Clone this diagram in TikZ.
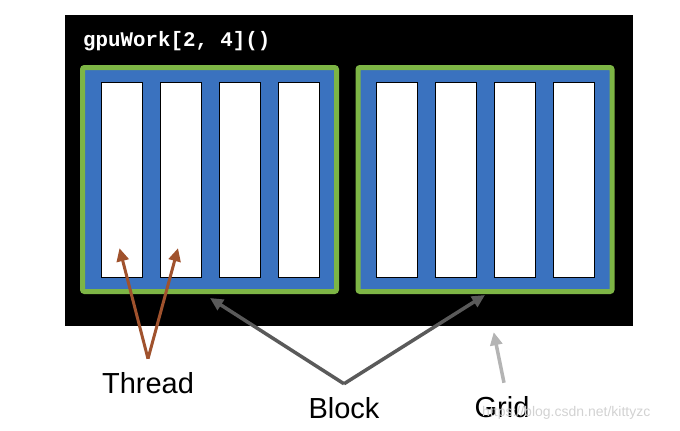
\documentclass[tikz,border=0pt]{standalone}
\usepackage{fontspec}
\setmainfont{Liberation Sans}
\setmonofont{Liberation Mono}
\usetikzlibrary{arrows.meta,calc,scopes}

\definecolor{blockblue}{HTML}{3A72BF}
\definecolor{blockgreen}{HTML}{7DB545}
\definecolor{threadbrown}{HTML}{A0522D}
\definecolor{darkarrow}{HTML}{5A5A5A}
\definecolor{lightarrow}{HTML}{B4B4B4}

\def\tstep{59}
\def\boff{275.5}

\begin{document}
\begin{tikzpicture}[x=1pt,y=-1pt,
    kernel/.style={rectangle,fill=black,minimum width=567.5pt,minimum height=311pt,inner sep=0pt},
    B/.style={rectangle,draw=blockgreen,fill=blockblue,line width=5pt,rounded corners=2pt,
        minimum width=254pt,minimum height=224pt},
    T/.style={rectangle,draw=black,fill=white,thin,minimum width=41pt,minimum height=195pt,inner sep=0pt},
    lbl/.style={font=\fontsize{29}{34}\selectfont,inner sep=13pt},
    ptr/.style={line width=3.5pt,-{Triangle[length=13pt,width=12pt]}},
]
\useasboundingbox (0,0) rectangle (680,431);

%% The launch: a grid of 2 blocks with 4 threads each
\node[kernel] (gridbox) at (348.75,170.5) {};
\node[anchor=west,text=white,inner sep=0pt,
    font=\ttfamily\bfseries\fontsize{20.8}{24}\selectfont] (call) at (83,41) {gpuWork[2, 4]()};

\foreach \b in {1,2} {
    \node[B] (b\b) at ({209.5+(\b-1)*\boff},179.5) {};
    % threads of block \b
    \foreach \i in {1,...,4}
        \node[T] (t\b\i) at ({121.5+(\b-1)*\boff+(\i-1)*\tstep},179.5) {};
}

%% Labels
\node[lbl,anchor=base] (thread) at (148,393) {Thread};
\node[lbl,anchor=base] (block) at (344,418) {Block};
\node[lbl,anchor=base] (gridlbl) at (502,417) {Grid};

% Pointers from the labels
{[ptr]
    \draw[threadbrown,line width=3pt] (thread.north) -- ($(t11.south)+(-2pt,29pt)$);
    \draw[threadbrown,line width=3pt] (thread.north) -- ($(t12.south)+(-2.5pt,29pt)$);
    \draw[darkarrow] (block.north) -- ($(b1.south)+(0.5pt,-4pt)$);
    \draw[darkarrow] (block.north) -- ($(b2.south)+(0pt,-1pt)$);
    \draw[lightarrow] ($(gridlbl.north)+(2pt,0pt)$) -- ($(gridbox.south east)+(-139pt,-6pt)$);
}

% watermark of the source
\node[text=gray!35,anchor=west,inner sep=0pt,font=\fontsize{14}{16}\selectfont] (mark)
    at (482,413) {https://blog.csdn.net/kittyzc};
\end{tikzpicture}
\end{document}
